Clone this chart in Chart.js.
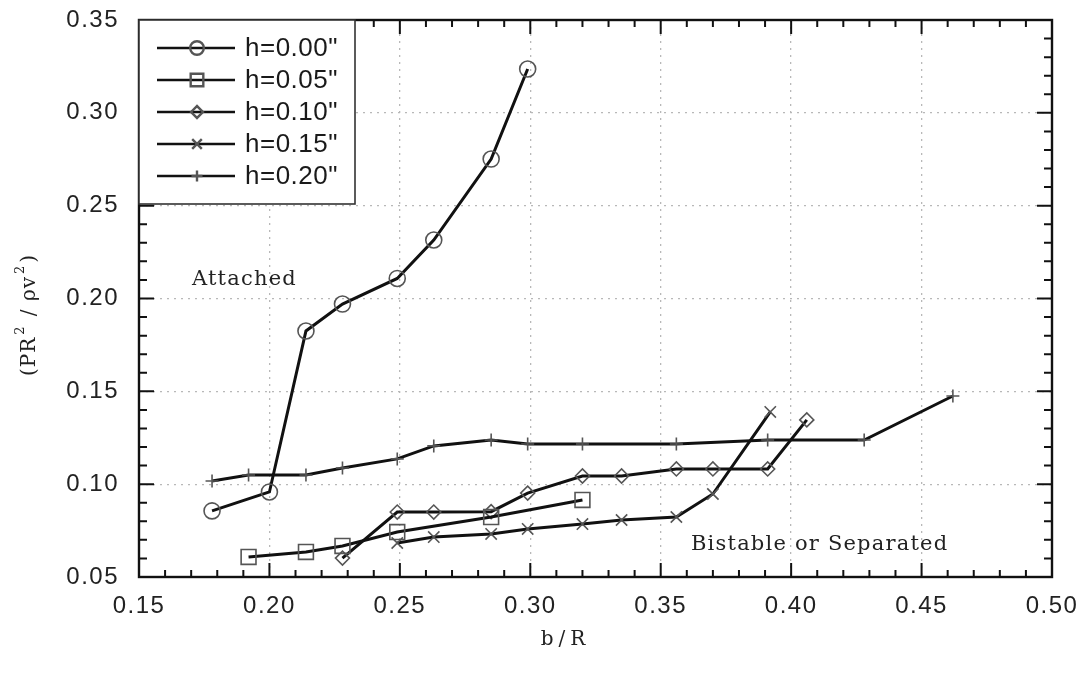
<!DOCTYPE html>
<html lang="en">
<head>
<meta charset="UTF-8">
<title>Pressure ratio vs b/R</title>
<script src="https://cdn.jsdelivr.net/npm/chart.js@4"></script>
<style>
  html, body { margin: 0; padding: 0; background: #fff; }
  #chart { display: block; }
</style>
</head>
<body>
<canvas id="chart" width="1081" height="676"></canvas>
<script>
// b/R and (PR^2 / rho v^2) for each step height h
const bR_h000 = [0.178, 0.200, 0.214, 0.228, 0.249, 0.263, 0.285, 0.299];
const p_h000  = [0.0856, 0.0958, 0.1825, 0.1970, 0.2108, 0.2315, 0.2751, 0.3236];
const bR_h005 = [0.192, 0.214, 0.228, 0.249, 0.285, 0.320];
const p_h005  = [0.0608, 0.0635, 0.0667, 0.0742, 0.0823, 0.0915];
const bR_h010 = [0.228, 0.249, 0.263, 0.285, 0.299, 0.320, 0.335, 0.356, 0.370, 0.391, 0.406];
const p_h010  = [0.0602, 0.0850, 0.0850, 0.0852, 0.0952, 0.1044, 0.1044, 0.1082, 0.1082, 0.1082, 0.1346];
const bR_h015 = [0.249, 0.263, 0.285, 0.299, 0.320, 0.335, 0.356, 0.370, 0.392];
const p_h015  = [0.0683, 0.0715, 0.0732, 0.0759, 0.0785, 0.0807, 0.0823, 0.0947, 0.1389];
const bR_h020 = [0.178, 0.192, 0.214, 0.228, 0.249, 0.263, 0.285, 0.299, 0.320, 0.356, 0.391, 0.428, 0.462];
const p_h020  = [0.1017, 0.1049, 0.1049, 0.1087, 0.1136, 0.1206, 0.1238, 0.1216, 0.1216, 0.1216, 0.1238, 0.1238, 0.1475];

const seriesLabels = ['h=0.00"', 'h=0.05"', 'h=0.10"', 'h=0.15"', 'h=0.20"'];
const seriesX = [bR_h000, bR_h005, bR_h010, bR_h015, bR_h020];
const seriesY = [p_h000, p_h005, p_h010, p_h015, p_h020];
const markers = ['circle', 'rect', 'rectRot', 'crossRot', 'cross'];
const markerSize = [8, 10.5, 7, 8, 6.5];

const xTicks = [0.15, 0.20, 0.25, 0.30, 0.35, 0.40, 0.45, 0.50];
const yTicks = [0.05, 0.10, 0.15, 0.20, 0.25, 0.30, 0.35];

// region labels, anchored in data units (left edge, baseline)
const regionText = ['Attached', 'Bistable or Separated'];
const regionX = [0.1703, 0.3616];
const regionY = [0.2073, 0.0646];

const sansFont = "'Liberation Sans', Arial, sans-serif";
const serifFont = "'DejaVu Serif', serif";
const ink = '#111';
const markerInk = '#555';

const datasets = seriesLabels.map((label, i) => ({
    label: label,
    data: seriesX[i].map((v, j) => ({ x: v, y: seriesY[i][j] })),
    borderColor: ink,
    borderWidth: 3,
    tension: 0,
    pointStyle: markers[i],
    pointRadius: markerSize[i],
    pointBorderColor: markerInk,
    pointBorderWidth: 1.6,
    pointBackgroundColor: 'rgba(0,0,0,0)'
}));

// letter spacing for the tick labels
const spacing = {
    id: 'spacing',
    beforeDraw(chart) { chart.ctx.letterSpacing = '1.5px'; },
    afterDraw(chart) { chart.ctx.letterSpacing = '0px'; }
};

// frame with inward major/minor ticks on all four sides
const frameTicks = {
    id: 'frameTicks',
    afterDatasetsDraw(chart) {
        const { ctx, chartArea: a, scales: { x, y } } = chart;
        ctx.save();
        ctx.letterSpacing = '0px';
        ctx.strokeStyle = ink;
        ctx.lineWidth = 2;
        ctx.beginPath();
        for (let i = 0; i <= 35; i++) {
            const px = x.getPixelForValue(0.15 + i * 0.01);
            const len = i % 5 === 0 ? 14 : 7;
            ctx.moveTo(px, a.bottom); ctx.lineTo(px, a.bottom - len);
            ctx.moveTo(px, a.top); ctx.lineTo(px, a.top + len);
        }
        for (let i = 0; i <= 30; i++) {
            const py = y.getPixelForValue(0.05 + i * 0.01);
            const len = i % 5 === 0 ? 15 : 8;
            ctx.moveTo(a.left, py); ctx.lineTo(a.left + len, py);
            ctx.moveTo(a.right, py); ctx.lineTo(a.right - len, py);
        }
        ctx.stroke();
        ctx.lineWidth = 2.4;
        ctx.strokeRect(a.left, a.top, a.right - a.left, a.bottom - a.top);
        ctx.restore();
    }
};

// legend box in the upper-left corner of the plot
const legendBox = {
    id: 'legendBox',
    afterDatasetsDraw(chart) {
        const { ctx, chartArea: a } = chart;
        const w = 216, h = 184;
        ctx.save();
        ctx.letterSpacing = '0.5px';
        ctx.fillStyle = '#fff';
        ctx.fillRect(a.left, a.top, w, h);
        ctx.strokeStyle = '#333';
        ctx.lineWidth = 1.6;
        ctx.strokeRect(a.left, a.top, w, h);
        ctx.font = '26px ' + sansFont;
        ctx.textBaseline = 'middle';
        seriesLabels.forEach((label, i) => {
            const cy = a.top + 28 + i * 32;
            ctx.strokeStyle = ink;
            ctx.lineWidth = 2.4;
            ctx.beginPath();
            ctx.moveTo(a.left + 18, cy);
            ctx.lineTo(a.left + 96, cy);
            ctx.stroke();
            ctx.strokeStyle = markerInk;
            ctx.fillStyle = 'rgba(0,0,0,0)';
            Chart.helpers.drawPoint(ctx, {
                pointStyle: markers[i], radius: markerSize[i] * 0.85, borderWidth: 1.5, rotation: 0
            }, a.left + 58, cy);
            ctx.fillStyle = '#1a1a1a';
            ctx.fillText(label, a.left + 106, cy + 1);
        });
        ctx.restore();
    }
};

// axis titles and region labels
const annotations = {
    id: 'annotations',
    afterDatasetsDraw(chart) {
        const { ctx, scales: { x, y } } = chart;
        ctx.save();
        ctx.fillStyle = '#222';
        ctx.textBaseline = 'alphabetic';
        ctx.font = '21px ' + serifFont;
        ctx.letterSpacing = '1.2px';
        regionText.forEach((t, i) => {
            ctx.fillText(t, x.getPixelForValue(regionX[i]), y.getPixelForValue(regionY[i]));
        });

        // x title
        ctx.font = '20px ' + serifFont;
        ctx.letterSpacing = '5px';
        ctx.textAlign = 'center';
        ctx.textBaseline = 'middle';
        ctx.fillText('b/R', (x.left + x.right) / 2 - 30, 640);

        // y title with superscripts, rotated
        const parts = [['(PR', false], ['2', true], [' / ρv', false], ['2', true], [')', false]];
        ctx.letterSpacing = '1px';
        ctx.textAlign = 'left';
        ctx.textBaseline = 'middle';
        const fontFor = sup => sup ? '13px ' + serifFont : '20px ' + serifFont;
        let total = 0;
        parts.forEach(([s, sup]) => { ctx.font = fontFor(sup); total += ctx.measureText(s).width + 2; });
        ctx.translate(30, 315);
        ctx.rotate(-Math.PI / 2);
        let cx = -total / 2;
        parts.forEach(([s, sup]) => {
            ctx.font = fontFor(sup);
            ctx.fillText(s, cx + 1, sup ? -9 : 0);
            cx += ctx.measureText(s).width + 2;
        });
        ctx.restore();
    }
};

const axisTickFont = { family: sansFont, size: 24 };

// keep the plot frame fixed: no extra room for overhanging end labels
const noEdgePadding = s => {
    s.paddingLeft = 0; s.paddingRight = 0;
    s.paddingTop = 0; s.paddingBottom = 0;
};

new Chart(document.getElementById('chart'), {
    type: 'line',
    data: { datasets: datasets },
    options: {
        responsive: false,
        animation: false,
        layout: { padding: { top: 20, right: 29, left: 0, bottom: 0 } },
        plugins: { legend: { display: false }, tooltip: { enabled: false } },
        scales: {
            x: {
                type: 'linear',
                min: xTicks[0],
                max: xTicks[xTicks.length - 1],
                afterFit: s => { s.height = 99; noEdgePadding(s); },
                afterBuildTicks: s => { s.ticks = xTicks.map(v => ({ value: v })); },
                ticks: { callback: v => v.toFixed(2), font: axisTickFont, color: '#222', padding: 15, maxRotation: 0, autoSkip: false },
                grid: { drawTicks: false, color: '#b8b8b8', lineWidth: 1.3 },
                border: { display: false, dash: [2, 5] }
            },
            y: {
                min: yTicks[0],
                max: yTicks[yTicks.length - 1],
                afterFit: s => { s.width = 139; noEdgePadding(s); },
                afterBuildTicks: s => { s.ticks = yTicks.map(v => ({ value: v })); },
                ticks: { callback: v => v.toFixed(2), font: axisTickFont, color: '#222', padding: 20, autoSkip: false },
                grid: { drawTicks: false, color: '#b8b8b8', lineWidth: 1.3 },
                border: { display: false, dash: [2, 5] }
            }
        }
    },
    plugins: [spacing, frameTicks, legendBox, annotations]
});
</script>
</body>
</html>
